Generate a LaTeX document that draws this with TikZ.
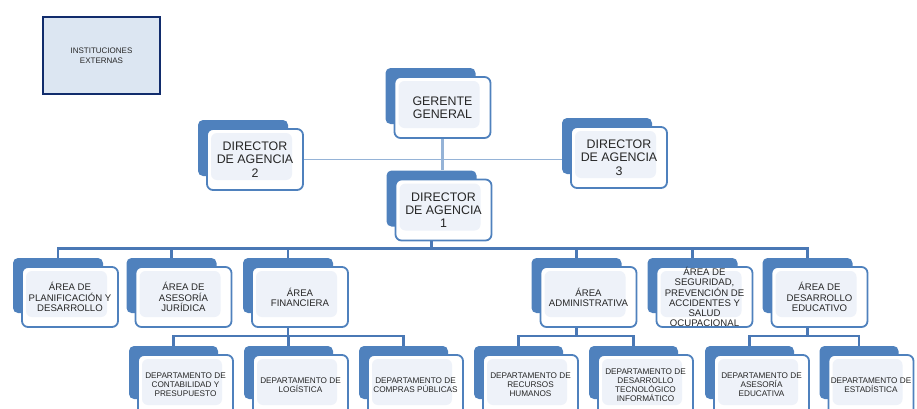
\documentclass[tikz,border=0pt]{standalone}
\usepackage{fontspec}
\setmainfont{Liberation Sans}
\usetikzlibrary{calc}

\definecolor{boxblue}{HTML}{4F81BD}
\definecolor{innerblue}{HTML}{EEF2F9}
\definecolor{busblue}{HTML}{4A78B5}
\definecolor{lightline}{HTML}{95B3D7}
\definecolor{navy}{HTML}{112C6C}
\definecolor{extfill}{HTML}{DCE6F2}
\definecolor{txt}{HTML}{262626}

\newcommand{\toptext}{\fontsize{12.4}{13.3}\selectfont}
\newcommand{\areatext}{\fontsize{9.6}{10.2}\selectfont}
\newcommand{\depttext}{\fontsize{8.2}{9}\selectfont}

\tikzset{
  backbox/.style={fill=boxblue, rounded corners=5pt, inner sep=0pt},
  frontbox/.style={draw=boxblue, line width=1.8pt, fill=white, rounded corners=6pt,
    inner sep=0pt, align=center, text=txt,
    path picture={\fill[innerblue]
      ($(path picture bounding box.north west)+(4pt,-4pt)$) rectangle
      ($(path picture bounding box.south east)+(-11pt,10pt)$);}},
  extbox/.style={draw=navy, line width=2.6pt, fill=extfill, align=center, text=txt,
    inner sep=0pt, minimum width=117pt, minimum height=77pt, font=\fontsize{8}{9.5}\selectfont},
  busline/.style={draw=busblue, line width=2.4pt},
  topline/.style={draw=lightline, line width=1.8pt},
  vline/.style={draw=lightline, line width=3.5pt},
}

\begin{document}
\begin{tikzpicture}[x=1pt,y=-1pt]
\useasboundingbox (0,0) rectangle (917,408);

\node[extbox] (ext) at (101.5,55.5) {INSTITUCIONES\\EXTERNAS};

% top level boxes
\foreach \n/\x/\y/\t in {ger/442.5/107.5/{GERENTE\\GENERAL},
  dir2/255/159.5/{DIRECTOR\\DE AGENCIA\\2},
  dir3/619/157.5/{DIRECTOR\\DE AGENCIA\\3},
  dir1/443.5/210/{DIRECTOR\\DE AGENCIA\\1}}
{
\node[backbox, minimum width=90pt, minimum height=56pt] (\n-b) at (\x-12,\y-11.5) {};
\node[frontbox, font=\toptext, minimum width=96pt, minimum height=61pt] (\n) at (\x,\y) {\t};
}

% areas
\foreach \n/\x/\t in {plan/70/{ÁREA DE\\PLANIFICACIÓN Y\\DESARROLLO},
  aseso/183.5/{ÁREA DE\\ASESORÍA\\JURÍDICA},
  fin/300/{ÁREA\\FINANCIERA},
  admin/588.5/{ÁREA\\ADMINISTRATIVA},
  seg/704.5/{ÁREA DE\\SEGURIDAD,\\PREVENCIÓN DE\\ACCIDENTES Y\\SALUD\\OCUPACIONAL},
  edu/819.5/{ÁREA DE\\DESARROLLO\\EDUCATIVO}}
{
\node[backbox, minimum width=90pt, minimum height=55pt] (\n-b) at (\x-12,285.5) {};
\node[frontbox, font=\areatext, minimum width=96pt, minimum height=60pt] (\n) at (\x,297) {\t};
}

% departments (bottom edge runs off the page)
\foreach \n/\x/\w/\t in {cont/185.5/95/{DEPARTAMENTO DE\\CONTABILIDAD Y\\PRESUPUESTO},
  log/300.5/95/{DEPARTAMENTO DE\\LOGÍSTICA},
  comp/415.5/95/{DEPARTAMENTO DE\\COMPRAS PÚBLICAS},
  rrhh/530.5/95/{DEPARTAMENTO DE\\RECURSOS\\HUMANOS},
  tec/645.5/95/{DEPARTAMENTO DE\\DESARROLLO\\TECNOLÓGICO\\INFORMÁTICO},
  aedu/761.5/95/{DEPARTAMENTO DE\\ASESORÍA\\EDUCATIVA},
  est/871/85/{DEPARTAMENTO DE\\ESTADÍSTICA}}
{
\node[backbox, minimum width=\w pt-6pt, minimum height=53pt] (\n-b) at (\x-12,372.5) {};
\node[frontbox, font=\depttext, minimum width=\w pt, minimum height=60pt] (\n) at (\x,385) {\t};
}

% connectors
\draw[topline] (dir2.east) -- (dir2.east -| dir3-b.west);
\draw[vline] (ger.south) -- (ger.south |- dir1-b.north);

\draw[busline] (dir1-b.south |- dir1.south) -- ++(0,7) coordinate (bus-dir1);
\foreach \c in {plan,aseso,fin,admin,seg,edu}
\draw[busline] (bus-dir1) -| (\c-b.north);

\foreach \p/\kids in {fin/{cont,log,comp}, admin/{rrhh,tec}, edu/{aedu,est}}
{
\draw[busline] (\p-b.south |- \p.south) -- ++(0,8) coordinate (bus-\p);
\foreach \c in \kids
\draw[busline] (bus-\p) -| (\c-b.north);
}

\end{tikzpicture}
\end{document}
